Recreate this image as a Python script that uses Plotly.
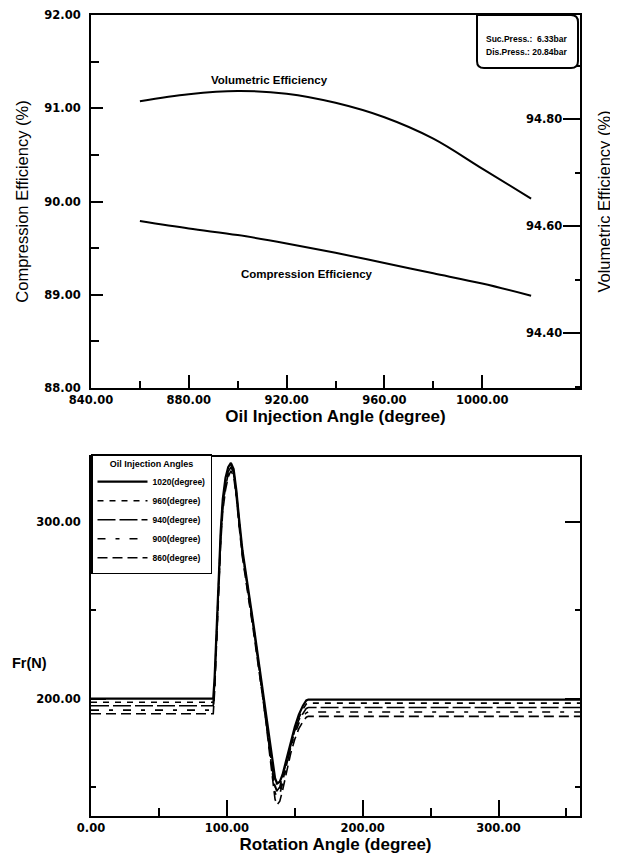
import plotly.graph_objects as go

# ---------------- data ----------------
inj_angle = [860, 880, 900, 920, 940, 960, 980, 1000, 1020]
compression_eff = [89.79, 89.71, 89.64, 89.55, 89.45, 89.34, 89.23, 89.12, 88.99]
volumetric_eff = [94.834, 94.847, 94.853, 94.848, 94.831, 94.804, 94.764, 94.708, 94.652]

rot_angle = [0, 90, 91, 92.5, 94, 95.5, 97, 99, 101, 103, 105, 107, 109, 111.5, 114, 117,
             120, 124, 128, 131, 133.5, 135.5, 137, 139, 141, 144, 147, 150, 153, 156,
             158.5, 160, 360]
fr_1020 = [200, 200, 212, 240, 270, 295, 313, 325, 331, 333.5, 330, 318, 302, 284, 271, 256,
           240, 218, 196, 178, 164, 155, 152, 153, 157, 166, 175, 184, 191, 196,
           199, 199.5, 199.5]
fr_960 = [198, 198, 210, 238, 268, 293, 311, 323, 329.5, 332, 329, 317, 301, 283, 270, 255,
          239, 217, 195, 176, 161, 151, 147, 148, 153, 163, 173, 182, 189, 194,
          197, 197.5, 197.5]
fr_940 = [196, 196, 208, 236, 266, 292, 310, 322, 328.5, 331, 328, 316, 300, 282, 269, 254,
          238, 216, 194, 175, 160, 150, 148, 150, 156, 165, 174, 182, 188, 192,
          194.5, 195, 195]
fr_900 = [193.5, 193.5, 206, 234, 264, 290, 308, 320, 327, 330, 327, 315, 299, 281, 268, 253,
          237, 215, 193, 174, 158, 147, 144, 146, 152, 162, 172, 180, 186, 190,
          192, 192.5, 192.5]
fr_860 = [191.5, 191.5, 204, 232, 262, 288, 306, 318, 325.5, 329, 326, 314, 298, 280, 267, 252,
          236, 214, 192, 172, 155, 143, 140, 142, 148, 159, 169, 177, 183, 187,
          189.5, 190, 190]

series_names = ["1020(degree)", "960(degree)", "940(degree)", "900(degree)", "860(degree)"]
series_vals = [fr_1020, fr_960, fr_940, fr_900, fr_860]
series_dash = ["solid", "6px,6px", "18px,4px", "8px,10px,4px,10px", "10px,5px"]
series_width = [2.2, 1.6, 1.6, 1.6, 1.6]

TICK_FONT = dict(family="DejaVu Sans", size=11.5, color="black", weight="bold")
TITLE_FONT_B = dict(family="Liberation Sans", size=17, color="black", weight="bold")
TITLE_FONT_R = dict(family="Liberation Sans", size=16.5, color="black")

fig = go.Figure()

fig.add_trace(go.Scatter(x=inj_angle, y=compression_eff, mode="lines",
                         line=dict(color="black", width=2, shape="spline"),
                         xaxis="x", yaxis="y", showlegend=False))
fig.add_trace(go.Scatter(x=inj_angle, y=volumetric_eff, mode="lines",
                         line=dict(color="black", width=2, shape="spline"),
                         xaxis="x", yaxis="y3", showlegend=False))

for name, vals, dash, w in zip(series_names, series_vals, series_dash, series_width):
    fig.add_trace(go.Scatter(x=rot_angle, y=vals, mode="lines", name=name,
                             line=dict(color="black", width=w, dash=dash),
                             xaxis="x2", yaxis="y2"))

top_dom = [1 - 373 / 801, 1]
bot_dom = [0, 359 / 801]

axis_common = dict(showgrid=False, zeroline=False, showline=True, linecolor="black",
                   linewidth=2, ticks="inside", tickcolor="black", tickwidth=1.5,
                   tickfont=TICK_FONT, tickformat=".2f", automargin=False)

# the page body has an 8px margin, so the figure is drawn 8px smaller with shifted margins
fig.update_layout(
    width=610, height=848,
    margin=dict(l=83, r=38, t=7, b=40, autoexpand=False),
    paper_bgcolor="white", plot_bgcolor="white",
    xaxis=dict(**axis_common, domain=[0, 1], anchor="y", range=[840, 1040],
               dtick=40, tick0=840, ticklen=13, mirror=True,
               minor=dict(ticks="inside", dtick=20, ticklen=7, tickcolor="black", tickwidth=1.5),
               title=dict(text="Oil Injection Angle (degree)", font=TITLE_FONT_B, standoff=4)),
    yaxis=dict(**axis_common, domain=top_dom, anchor="x", range=[88, 92],
               dtick=1, tick0=88, ticklen=12, ticklabelstandoff=6,
               minor=dict(ticks="inside", dtick=0.5, ticklen=8, tickcolor="black", tickwidth=1.5),
               title=dict(text="Compression Efficiency (%)", font=TITLE_FONT_R, standoff=12)),
    yaxis3=dict(**axis_common, overlaying="y", side="right", anchor="x",
                range=[94.298, 94.995], tick0=94.4, dtick=0.2, ticklen=17,
                ticklabelposition="inside",
                minor=dict(ticks="inside", dtick=0.1, ticklen=5, tickcolor="black", tickwidth=1.5),
                title=dict(text="Volumetric Efficiency (%)", font=TITLE_FONT_R, standoff=37)),
    xaxis2=dict(**axis_common, domain=[0, 1], anchor="y2", range=[0, 360],
                dtick=100, tick0=0, ticklen=16, mirror=True,
                minor=dict(ticks="inside", dtick=50, ticklen=8, tickcolor="black", tickwidth=1.5),
                title=dict(text="Rotation Angle (degree)", font=TITLE_FONT_B, standoff=2)),
    yaxis2=dict(**axis_common, domain=bot_dom, anchor="x2", range=[133.6, 336.8],
                dtick=100, tick0=0, ticklen=15, mirror="ticks", ticklabelstandoff=6,
                minor=dict(ticks="inside", dtick=50, ticklen=5, tickcolor="black", tickwidth=1.5)),
    legend=dict(x=0, xanchor="left", y=(816 - 454) / 801, yanchor="top",
                bgcolor="white", bordercolor="black", borderwidth=1.5,
                font=dict(family="Liberation Sans", size=8.5, color="black", weight="bold"),
                title=dict(text="Oil Injection Angles", side="top center",
                           font=dict(family="Liberation Sans", size=9, color="black", weight="bold")),
                itemwidth=50, tracegroupgap=0),
)

# pressure info box (rounded rectangle)
x0, x1 = (477 - 91) / 489, (578 - 91) / 489
y0, y1 = (816 - 68) / 801, 1.0
rx, ry = 7 / 489, 7 / 801
box_path = (f"M {x0},{y1} L {x1 - rx},{y1} Q {x1},{y1} {x1},{y1 - ry} "
            f"L {x1},{y0 + ry} Q {x1},{y0} {x1 - rx},{y0} L {x0 + rx},{y0} "
            f"Q {x0},{y0} {x0},{y0 + ry} Z")
fig.add_shape(type="path", path=box_path, xref="paper", yref="paper",
              line=dict(color="black", width=2), fillcolor="white", layer="above")

ann_font = dict(family="Liberation Sans", size=8.5, color="black", weight="bold")
fig.add_annotation(text="Suc.Press.:  6.33bar", xref="paper", yref="paper",
                   x=(484 - 91) / 489, y=(816 - 39) / 801, xanchor="left", yanchor="middle",
                   showarrow=False, font=ann_font)
fig.add_annotation(text="Dis.Press.: 20.84bar", xref="paper", yref="paper",
                   x=(484 - 91) / 489, y=(816 - 52) / 801, xanchor="left", yanchor="middle",
                   showarrow=False, font=ann_font)

lab_font = dict(family="Liberation Sans", size=11.5, color="black", weight="bold")
fig.add_annotation(text="Volumetric Efficiency", x=913, y=91.30, xref="x", yref="y",
                   showarrow=False, font=lab_font)
fig.add_annotation(text="Compression Efficiency", x=928.5, y=89.22, xref="x", yref="y",
                   showarrow=False, font=lab_font)

fig.add_annotation(text="Fr(N)", xref="paper", yref="paper",
                   x=(10 - 91) / 489, y=(816 - 663) / 801, xanchor="left", yanchor="middle",
                   showarrow=False,
                   font=dict(family="Liberation Sans", size=14.5, color="black", weight="bold"))

fig.write_html("out.html")
